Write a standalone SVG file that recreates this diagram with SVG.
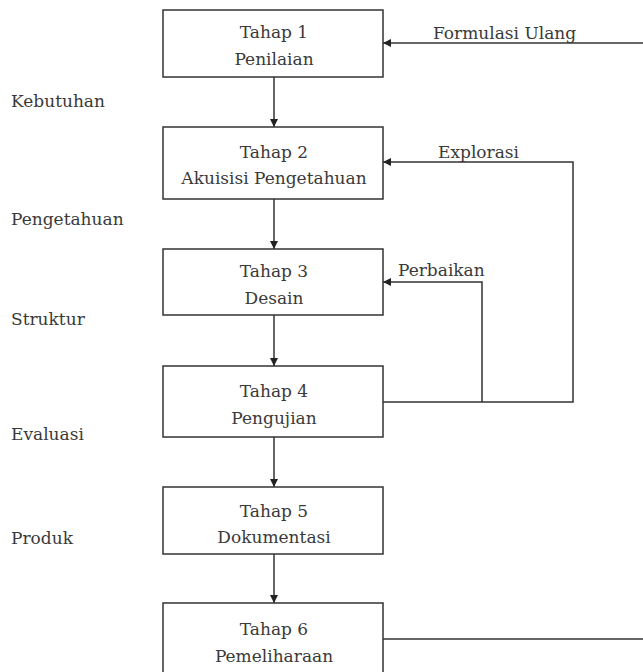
<svg xmlns="http://www.w3.org/2000/svg" width="643" height="672" viewBox="0 0 643 672">
<style>
.box{fill:#fff;stroke:#333;stroke-width:1.5}
text{font-family:'DejaVu Serif','Liberation Serif',serif;font-size:17px;fill:#3a3a3a}
.c{text-anchor:middle}
.ln{fill:none;stroke:#333;stroke-width:1.5}
</style>
<defs>
<marker id="ah" viewBox="0 0 10 10" refX="10" refY="5" markerWidth="8" markerHeight="8" markerUnits="userSpaceOnUse" orient="auto">
<path d="M0,0 L10,5 L0,10 z" fill="#222"/>
</marker>
</defs>
<rect width="643" height="672" fill="#fff"/>
<g id="connectors">
<path class="ln" d="M274,77 V127" marker-end="url(#ah)"/>
<path class="ln" d="M274,199 V249" marker-end="url(#ah)"/>
<path class="ln" d="M274,315 V366" marker-end="url(#ah)"/>
<path class="ln" d="M274,437 V487" marker-end="url(#ah)"/>
<path class="ln" d="M274,554 V603" marker-end="url(#ah)"/>
<path class="ln" d="M643,43 H383" marker-end="url(#ah)"/>
<path class="ln" d="M383,402 H573 V162 H383" marker-end="url(#ah)"/>
<path class="ln" d="M482,402 V282 H383" marker-end="url(#ah)"/>
<path class="ln" d="M383,639 H643"/>
<text x="433" y="39">Formulasi Ulang</text>
<text x="438" y="158">Explorasi</text>
<text x="398" y="276">Perbaikan</text>
</g>
<g id="n1"><rect class="box" x="163" y="10" width="220" height="67"/><text class="c" x="274" y="38">Tahap 1</text><text class="c" x="274" y="65">Penilaian</text></g>
<g id="n2"><rect class="box" x="163" y="127" width="220" height="72"/><text class="c" x="274" y="158">Tahap 2</text><text class="c" x="274" y="184">Akuisisi Pengetahuan</text></g>
<g id="n3"><rect class="box" x="163" y="249" width="220" height="66"/><text class="c" x="274" y="277">Tahap 3</text><text class="c" x="274" y="304">Desain</text></g>
<g id="n4"><rect class="box" x="163" y="366" width="220" height="71"/><text class="c" x="274" y="397">Tahap 4</text><text class="c" x="274" y="424">Pengujian</text></g>
<g id="n5"><rect class="box" x="163" y="487" width="220" height="67"/><text class="c" x="274" y="517">Tahap 5</text><text class="c" x="274" y="543">Dokumentasi</text></g>
<g id="n6"><rect class="box" x="163" y="603" width="220" height="75"/><text class="c" x="274" y="635">Tahap 6</text><text class="c" x="274" y="662">Pemeliharaan</text></g>
<g id="labels">
<text x="11" y="107">Kebutuhan</text>
<text x="11" y="225">Pengetahuan</text>
<text x="11" y="325">Struktur</text>
<text x="11" y="440">Evaluasi</text>
<text x="11" y="544">Produk</text>
</g>
</svg>
